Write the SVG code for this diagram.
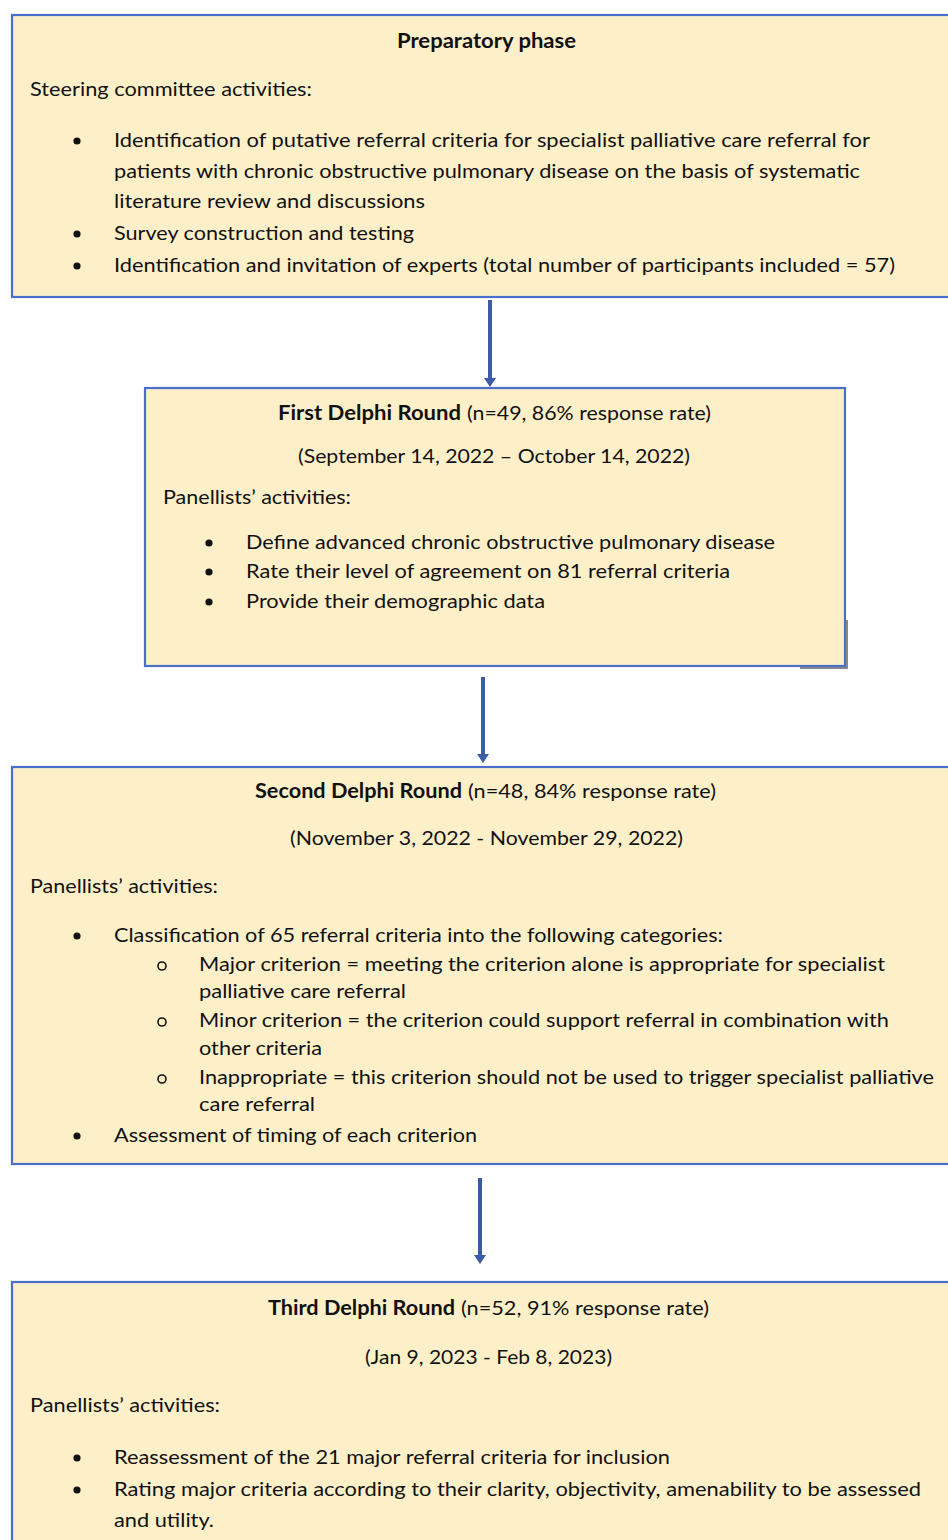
<svg xmlns="http://www.w3.org/2000/svg" width="948" height="1540" viewBox="0 0 948 1540">
<defs>
<polygon id="head" points="-6,-9 6,-9 0,0" fill="#3b5ba5"/>
</defs>
<style>
.box{fill:#fdf0c9;stroke:#4a6fc8;stroke-width:2.2}
.t{font-family:Lato,"Open Sans","Liberation Sans",sans-serif;font-size:20px;fill:#111}
.b{font-weight:bold}
.n{font-family:Lato,"Liberation Sans",sans-serif;font-size:20px;fill:#111}
.dot{fill:#111}
.ring{fill:none;stroke:#111;stroke-width:1.6}
.conn{stroke:#3b5ba5;stroke-width:4;fill:none}
</style>
<rect width="948" height="1540" fill="#ffffff"/>

<g id="connectors">
<line class="conn" x1="490" y1="300" x2="490" y2="380"/>
<use href="#head" x="490" y="387"/>
<line class="conn" x1="483" y1="677" x2="483" y2="756"/>
<use href="#head" x="483" y="763"/>
<line class="conn" x1="480" y1="1178" x2="480" y2="1257"/>
<use href="#head" x="480" y="1264"/>
</g>

<g id="preparatory">
<rect class="box" x="12" y="15" width="946" height="282"/>
<text class="t b" x="397" y="48" textLength="179" lengthAdjust="spacingAndGlyphs">Preparatory phase</text>
<text class="t" x="30" y="96" textLength="282" lengthAdjust="spacingAndGlyphs">Steering committee activities:</text>
<circle class="dot" cx="77" cy="141" r="3.6"/>
<text class="t" x="114" y="147" textLength="756" lengthAdjust="spacingAndGlyphs">Identification of putative referral criteria for specialist palliative care referral for</text>
<text class="t" x="114" y="178" textLength="746" lengthAdjust="spacingAndGlyphs">patients with chronic obstructive pulmonary disease on the basis of systematic</text>
<text class="t" x="114" y="208" textLength="311" lengthAdjust="spacingAndGlyphs">literature review and discussions</text>
<circle class="dot" cx="77" cy="234" r="3.6"/>
<text class="t" x="114" y="240" textLength="300" lengthAdjust="spacingAndGlyphs">Survey construction and testing</text>
<circle class="dot" cx="77" cy="266" r="3.6"/>
<text class="t" x="114" y="272" textLength="781" lengthAdjust="spacingAndGlyphs">Identification and invitation of experts (total number of participants included = 57)</text>
</g>

<g id="round1">
<path d="M847,620 L847,668 L800,668" fill="none" stroke="#8a8a8a" stroke-width="2"/>
<rect class="box" x="145" y="388" width="700" height="278"/>
<text class="t b" x="278" y="420" textLength="183" lengthAdjust="spacingAndGlyphs">First Delphi Round</text>
<text class="t" x="467" y="420" textLength="244" lengthAdjust="spacingAndGlyphs">(n=49, 86% response rate)</text>
<text class="t" x="298" y="463" textLength="392" lengthAdjust="spacingAndGlyphs">(September 14, 2022 – October 14, 2022)</text>
<text class="t" x="163" y="504" textLength="188" lengthAdjust="spacingAndGlyphs">Panellists’ activities:</text>
<circle class="dot" cx="209" cy="543" r="3.6"/>
<text class="t" x="246" y="549" textLength="529" lengthAdjust="spacingAndGlyphs">Define advanced chronic obstructive pulmonary disease</text>
<circle class="dot" cx="209" cy="572" r="3.6"/>
<text class="t" x="246" y="578" textLength="484" lengthAdjust="spacingAndGlyphs">Rate their level of agreement on 81 referral criteria</text>
<circle class="dot" cx="209" cy="602" r="3.6"/>
<text class="t" x="246" y="608" textLength="299" lengthAdjust="spacingAndGlyphs">Provide their demographic data</text>
</g>

<g id="round2">
<rect class="box" x="12" y="767" width="946" height="397"/>
<text class="t b" x="255" y="798" textLength="207" lengthAdjust="spacingAndGlyphs">Second Delphi Round</text>
<text class="t" x="468" y="798" textLength="248" lengthAdjust="spacingAndGlyphs">(n=48, 84% response rate)</text>
<text class="t" x="290" y="845" textLength="393" lengthAdjust="spacingAndGlyphs">(November 3, 2022 - November 29, 2022)</text>
<text class="t" x="30" y="893" textLength="188" lengthAdjust="spacingAndGlyphs">Panellists’ activities:</text>
<circle class="dot" cx="77" cy="936" r="3.6"/>
<text class="t" x="114" y="942" textLength="609" lengthAdjust="spacingAndGlyphs">Classification of 65 referral criteria into the following categories:</text>
<circle class="ring" cx="162" cy="966" r="4"/>
<text class="t" x="199" y="971" textLength="686" lengthAdjust="spacingAndGlyphs">Major criterion = meeting the criterion alone is appropriate for specialist</text>
<text class="t" x="199" y="998" textLength="207" lengthAdjust="spacingAndGlyphs">palliative care referral</text>
<circle class="ring" cx="162" cy="1022" r="4"/>
<text class="t" x="199" y="1027" textLength="690" lengthAdjust="spacingAndGlyphs">Minor criterion = the criterion could support referral in combination with</text>
<text class="t" x="199" y="1055" textLength="123" lengthAdjust="spacingAndGlyphs">other criteria</text>
<circle class="ring" cx="162" cy="1079" r="4"/>
<text class="t" x="199" y="1084" textLength="735" lengthAdjust="spacingAndGlyphs">Inappropriate = this criterion should not be used to trigger specialist palliative</text>
<text class="t" x="199" y="1111" textLength="116" lengthAdjust="spacingAndGlyphs">care referral</text>
<circle class="dot" cx="77" cy="1136" r="3.6"/>
<text class="t" x="114" y="1142" textLength="363" lengthAdjust="spacingAndGlyphs">Assessment of timing of each criterion</text>
</g>

<g id="round3">
<rect class="box" x="12" y="1282" width="946" height="270"/>
<text class="t b" x="268" y="1315" textLength="187" lengthAdjust="spacingAndGlyphs">Third Delphi Round</text>
<text class="t" x="461" y="1315" textLength="248" lengthAdjust="spacingAndGlyphs">(n=52, 91% response rate)</text>
<text class="t" x="365" y="1364" textLength="247" lengthAdjust="spacingAndGlyphs">(Jan 9, 2023 - Feb 8, 2023)</text>
<text class="t" x="30" y="1412" textLength="190" lengthAdjust="spacingAndGlyphs">Panellists’ activities:</text>
<circle class="dot" cx="77" cy="1458" r="3.6"/>
<text class="t" x="114" y="1464" textLength="556" lengthAdjust="spacingAndGlyphs">Reassessment of the 21 major referral criteria for inclusion</text>
<circle class="dot" cx="77" cy="1490" r="3.6"/>
<text class="n" x="114" y="1496" textLength="807" lengthAdjust="spacingAndGlyphs">Rating major criteria according to their clarity, objectivity, amenability to be assessed</text>
<text class="n" x="114" y="1527" textLength="100" lengthAdjust="spacingAndGlyphs">and utility.</text>
</g>
</svg>
